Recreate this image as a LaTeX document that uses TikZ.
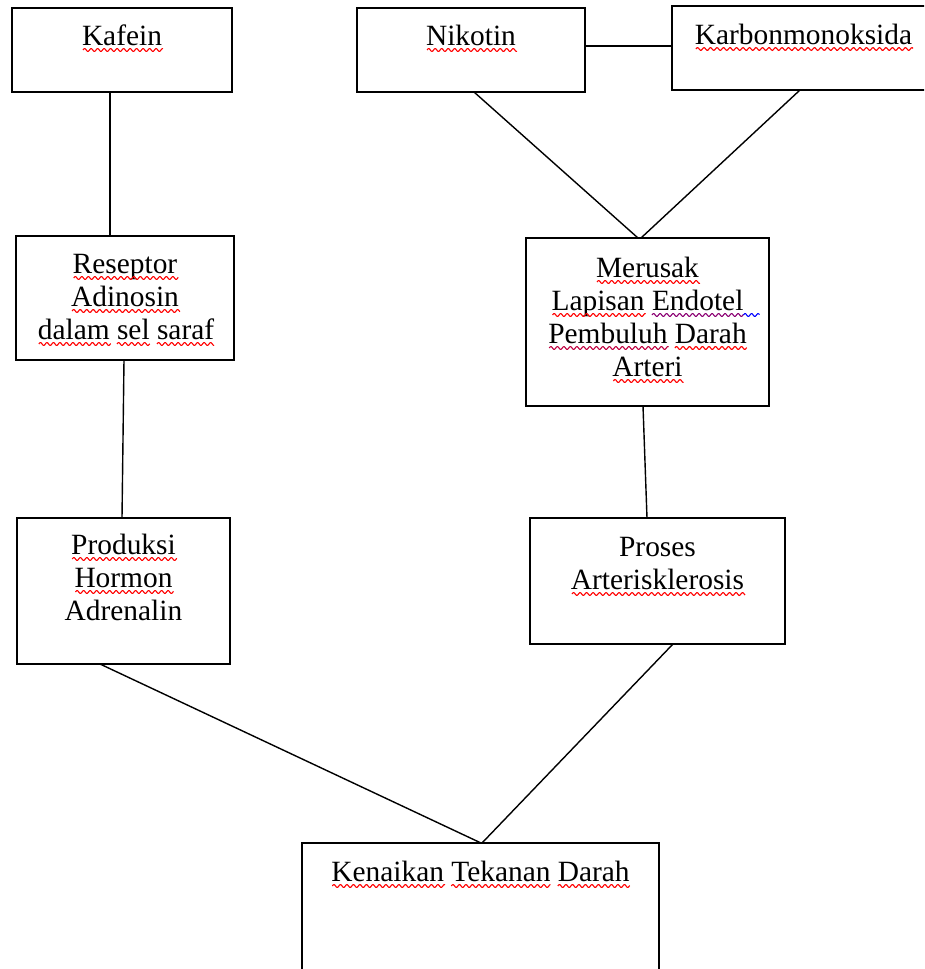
\documentclass[tikz,border=0pt]{standalone}
\usepackage{fontspec}
\setmainfont{Liberation Serif}
\usetikzlibrary{calc}
\newcommand{\txtfont}{\fontsize{29.4}{33}\selectfont}
% wavy underline of word #4 in line node #2, after prefix #3
\newcommand{\ulw}[5][red]{%
  \path (#2.base west) node[ph] (p#5) {\phantom{#3}}
        (p#5.base east) node[ph] (q#5) {\phantom{#4}};
  \draw[wv,#1] let \p1=([yshift=-5pt]q#5.base west), \p2=(q#5.base east) in
    plot[variable=\t,domain=\x1:\x2,samples=240] ({\t*1pt},{\y1+1.4pt*sin((\t-\x1)*55.4)});}
\begin{document}
\begin{tikzpicture}[x=1pt,y=-1pt,
  box/.style={draw=black,line width=1.6pt,inner sep=0pt,outer sep=0pt},
  txt/.style={inner sep=0pt,outer sep=0pt,anchor=base,text=black,font=\txtfont},
  ph/.style={inner sep=0pt,outer sep=0pt,anchor=base west,font=\txtfont},
  wv/.style={line width=1.1pt},
  conn/.style={draw=black,line width=1.4pt}]
\useasboundingbox[fill=white] (0,0) rectangle (924,969);
\begin{scope}
\clip (0,0) rectangle (924,969);
\node[box,minimum width=220pt,minimum height=84pt] (kafein) at (122,50) {};
\node[box,minimum width=228pt,minimum height=84pt] (nikotin) at (471,50) {};
\node[box,minimum width=263pt,minimum height=84pt] (karbon) at (803.5,48) {};
\node[box,minimum width=218pt,minimum height=124pt] (reseptor) at (125,298) {};
\node[box,minimum width=243pt,minimum height=168pt] (merusak) at (647.5,322) {};
\node[box,minimum width=213pt,minimum height=146pt] (produksi) at (123.5,591) {};
\node[box,minimum width=255pt,minimum height=126pt] (proses) at (657.5,581) {};
\node[box,minimum width=357pt,minimum height=157pt] (kenaikan) at (480.5,921.5) {};
\draw[conn] ([xshift=-12pt]kafein.south) -- ([xshift=-15pt]reseptor.north);
\draw[conn] ([xshift=-1pt]reseptor.south) -- ([xshift=-1.5pt]produksi.north);
\draw[conn] ([xshift=3pt]nikotin.south) -- ([xshift=-9.5pt]merusak.north);
\draw[conn] ([xshift=-3.5pt]karbon.south) -- ([xshift=-6.5pt]merusak.north);
\draw[conn] ([yshift=4pt]nikotin.east) -- ([yshift=2pt]karbon.west);
\draw[conn] ([xshift=-4.5pt]merusak.south) -- ([xshift=-10.5pt]proses.north);
\draw[conn] ([xshift=-23.5pt]produksi.south) -- ([xshift=0.5pt]kenaikan.north);
\draw[conn] ([xshift=15.5pt]proses.south) -- ([xshift=1.5pt]kenaikan.north);
\end{scope}
% texts
\node[txt] (t1) at (122,45) {Kafein};
\node[txt] (t2) at (471,45) {Nikotin};
\node[txt] (t3) at (803.5,44) {Karbonmonoksida};
\node[txt] (t4a) at (125,273) {Reseptor};
\node[txt] (t4b) at (125,306) {Adinosin};
\node[txt] (t4c) at (126,339) {dalam sel saraf};
\node[txt] (t5a) at (647.5,277) {Merusak};
\node[txt] (t5b) at (647.5,310) {Lapisan Endotel};
\node[txt] (t5c) at (647.5,343) {Pembuluh Darah};
\node[txt] (t5d) at (647.5,376) {Arteri};
\node[txt] (t6a) at (123.5,554) {Produksi};
\node[txt] (t6b) at (123.5,587) {Hormon};
\node[txt] (t6c) at (123.5,620) {Adrenalin};
\node[txt] (t7a) at (657.5,556) {Proses};
\node[txt] (t7b) at (657.5,589) {Arterisklerosis};
\node[txt] (t8) at (480.5,881) {Kenaikan Tekanan Darah};
% spell-check squiggles
\ulw{t1}{}{Kafein}{a}
\ulw{t2}{}{Nikotin}{b}
\ulw{t3}{}{Karbonmonoksida}{c}
\ulw{t4a}{}{Reseptor}{d}
\ulw{t4b}{}{Adinosin}{e}
\ulw{t4c}{}{dalam}{f}
\ulw{t4c}{dalam\ }{sel}{g}
\ulw{t4c}{dalam sel\ }{saraf}{h}
\ulw{t5a}{}{Merusak}{i}
\ulw{t5b}{}{Lapisan}{j}
\ulw[red!55!blue]{t5b}{Lapisan\ }{Endotel}{k}
\draw[wv,blue] let \p1=([yshift=-5pt]qk.base east), \p2=([xshift=16pt]qk.base east) in
    plot[variable=\t,domain=\x1:\x2,samples=40] ({\t*1pt},{\y1+1.4pt*sin((\t-\x1)*55.4)});
\ulw[red!75!blue]{t5c}{}{Pembuluh}{l}
\ulw{t5c}{Pembuluh\ }{Darah}{m}
\ulw{t5d}{}{Arteri}{n}
\ulw{t6a}{}{Produksi}{o}
\ulw{t6b}{}{Hormon}{r}
\ulw{t7b}{}{Arterisklerosis}{s}
\ulw{t8}{}{Kenaikan}{t}
\ulw{t8}{Kenaikan\ }{Tekanan}{u}
\ulw{t8}{Kenaikan Tekanan\ }{Darah}{v}
\end{tikzpicture}
\end{document}
